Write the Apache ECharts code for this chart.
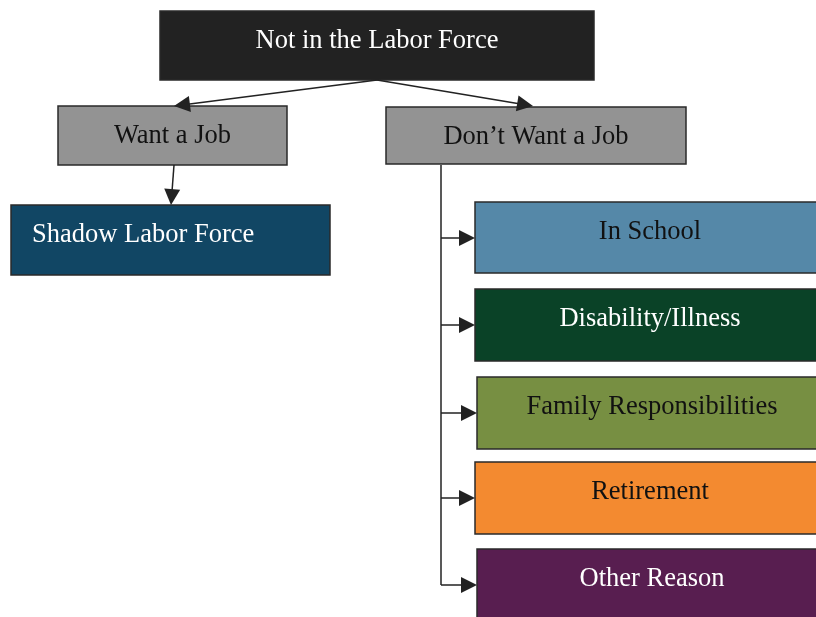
<!DOCTYPE html>
<html>
<head>
<meta charset="utf-8">
<script src="https://cdn.jsdelivr.net/npm/echarts@6/dist/echarts.min.js"></script>
<style>
  html, body { margin: 0; padding: 0; background: #fff; }
  #chart { width: 816px; height: 617px; }
</style>
</head>
<body>
<div id="chart"></div>
<script>
// box labels
var boxLabels = ['Not in the Labor Force', 'Want a Job', 'Don\u2019t Want a Job', 'Shadow Labor Force',
  'In School', 'Disability/Illness', 'Family Responsibilities', 'Retirement', 'Other Reason'];
var boxColors = ['#222222', '#939393', '#939393', '#114664', '#5588a8', '#0a4227', '#778f42', '#f38a30', '#581e50'];
var textColors = ['#ffffff', '#111111', '#111111', '#ffffff', '#111111', '#ffffff', '#111111', '#111111', '#ffffff'];

// layout: [x0, y0, x1, y1] in page pixels
var boxLayout = [
  [160, 11, 594, 80],
  [58, 106, 287, 165],
  [386, 107, 686, 164],
  [11, 205, 330, 275],
  [475, 202, 826, 273],
  [475, 289, 826, 361],
  [477, 377, 826, 449],
  [475, 462, 826, 534],
  [477, 549, 826, 630]
];
var textLeft = [false, false, false, true, false, false, false, false, false];

// connectors (from, arrow tip)
var arrowLinks = [
  [[377, 80], [174, 106]],
  [[377, 80], [533, 106]],
  [[174, 165], [171, 205]],
  [[441, 238], [475, 238]],
  [[441, 325], [475, 325]],
  [[441, 413], [477, 413]],
  [[441, 498], [475, 498]],
  [[441, 585], [477, 585]]
];
var plainLinks = [
  [[441, 165], [441, 585]]
];

var ARROW_LEN = 16;

// the symbol is centred on the end point, so pull the end back by half its length
function pullBack(l) {
  var a = l[0], b = l[1];
  var dx = b[0] - a[0], dy = b[1] - a[1];
  var d = Math.sqrt(dx * dx + dy * dy);
  var k = (ARROW_LEN / 2) / d;
  return [a, [b[0] - dx * k, b[1] - dy * k]];
}

var chart = echarts.init(document.getElementById('chart'));

var boxData = boxLayout.map(function (b, i) { return b.concat([i]); });

var option = {
  animation: false,
  grid: { left: 0, right: 0, top: 0, bottom: 0 },
  xAxis: { type: 'value', min: 0, max: 816, show: false },
  yAxis: { type: 'value', min: 0, max: 617, inverse: true, show: false },
  series: [
    {
      type: 'custom',
      coordinateSystem: 'cartesian2d',
      data: boxData,
      encode: { x: [0, 2], y: [1, 3] },
      renderItem: function (params, api) {
        var i = api.value(4);
        var p0 = api.coord([api.value(0), api.value(1)]);
        var p1 = api.coord([api.value(2), api.value(3)]);
        var tx = textLeft[i] ? p0[0] + 21 : (p0[0] + p1[0]) / 2;
        if (i >= 4) tx = p0[0] + 175;
        return {
          type: 'group',
          children: [
            {
              type: 'rect',
              shape: { x: p0[0], y: p0[1], width: p1[0] - p0[0], height: p1[1] - p0[1] },
              style: { fill: boxColors[i], stroke: '#2a2a2a', lineWidth: 1.5 }
            },
            {
              type: 'text',
              style: {
                text: boxLabels[i],
                x: tx,
                y: p0[1] + 30,
                fill: textColors[i],
                font: '26.5px "Liberation Serif", "Times New Roman", serif',
                align: textLeft[i] ? 'left' : 'center',
                verticalAlign: 'middle'
              }
            }
          ]
        };
      },
      z: 2
    },
    {
      type: 'lines',
      coordinateSystem: 'cartesian2d',
      symbol: ['none', 'triangle'],
      symbolSize: [14, ARROW_LEN],
      lineStyle: { color: '#222222', width: 1.5, opacity: 1 },
      data: arrowLinks.map(function (l) { return { coords: pullBack(l) }; }),
      z: 3
    },
    {
      type: 'lines',
      coordinateSystem: 'cartesian2d',
      symbol: 'none',
      lineStyle: { color: '#222222', width: 1.5, opacity: 1 },
      data: plainLinks.map(function (l) { return { coords: l }; }),
      z: 3
    }
  ]
};

chart.setOption(option);
</script>
</body>
</html>
